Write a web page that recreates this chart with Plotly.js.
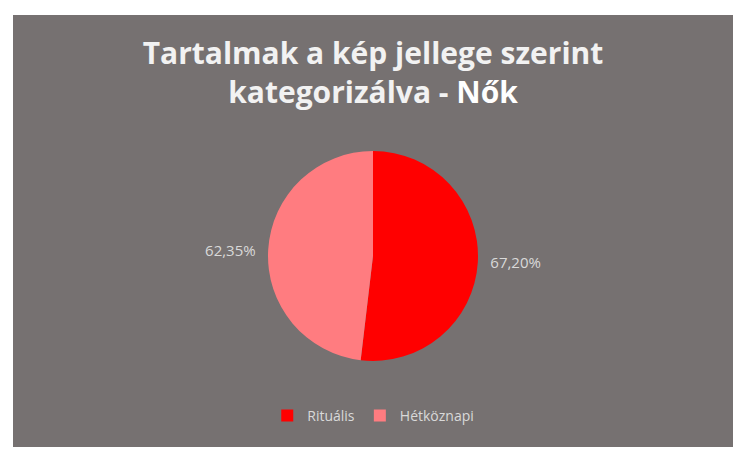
<!DOCTYPE html>
<html>
<head>
<meta charset="utf-8">
<script src="https://cdn.plot.ly/plotly-3.0.1.min.js"></script>
<style>html,body{margin:0;padding:0;background:#fff;}</style>
</head>
<body>
<div id="chart" style="width:751px;height:460px;"></div>
<script>
const categories = ["Rituális", "Hétköznapi"];
const values = [67.20, 62.35];
const colors = ["#FF0000", "#FF7C80"];
const titleLine1 = "Tartalmak a kép jellege szerint";
const titleLine2 = "kategorizálva - ";
const titleEmph = "Nők";

const W = 751, H = 460;
const cx = 373, cy = 256, r = 105;
const pad = "\u2002";

const trace = {
  type: "pie",
  labels: categories,
  values: values,
  sort: false,
  direction: "clockwise",
  rotation: 0,
  marker: { colors: colors, line: { width: 0 } },
  textposition: "outside",
  texttemplate: [pad + "%{value:.2f}%", "%{value:.2f}%" + pad],
  textfont: { family: "Open Sans, sans-serif", size: 15, color: "#D9D9D9" },
  outsidetextfont: { family: "Open Sans, sans-serif", size: 15, color: "#D9D9D9" },
  hoverinfo: "label+value",
  domain: { x: [(cx - r) / W, (cx + r) / W], y: [(H - cy - r) / H, (H - cy + r) / H] },
  automargin: false
};

const layout = {
  width: W, height: H,
  margin: { l: 0, r: 0, t: 0, b: 0 },
  paper_bgcolor: "#FFFFFF",
  separators: ",.",
  shapes: [{
    type: "rect", xref: "paper", yref: "paper", layer: "below",
    x0: 13 / W, x1: 733 / W, y0: (H - 447) / H, y1: (H - 15) / H,
    fillcolor: "#767171", line: { width: 0 }
  }],
  title: {
    text: "<b>" + titleLine1 + "<br>" + titleLine2 + "<span style='color:#FFFFFF'>" + titleEmph + "</span></b>",
    x: 373 / W, xanchor: "center",
    yref: "paper",
    y: (H - 64) / H, yanchor: "middle",
    font: { family: "Open Sans, sans-serif", size: 30, color: "#F2F2F2" }
  },
  showlegend: true,
  legend: {
    orientation: "h", x: 0.497, xanchor: "center", y: (H - 416) / H, yanchor: "middle",
    font: { family: "Open Sans, sans-serif", size: 14, color: "#D9D9D9" },
    bgcolor: "rgba(0,0,0,0)", itemwidth: 30, traceorder: "normal"
  }
};

Plotly.newPlot("chart", [trace], layout, { displayModeBar: false, staticPlot: true });
</script>
</body>
</html>
